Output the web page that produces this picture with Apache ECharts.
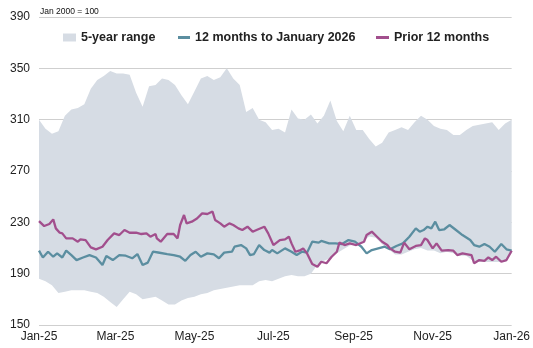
<!DOCTYPE html>
<html>
<head>
<meta charset="utf-8">
<script src="https://cdn.jsdelivr.net/npm/echarts@6/dist/echarts.min.js"></script>
<style>html,body{margin:0;padding:0;background:#fff}#c{width:533px;height:348px}</style>
</head>
<body>
<div id="c"></div>
<script>
// x positions are day-of-year offsets from 1 Jan 2025
const tickDays = [0, 59, 120, 181, 243, 304, 365];
const tickLabels = ['Jan-25', 'Mar-25', 'May-25', 'Jul-25', 'Sep-25', 'Nov-25', 'Jan-26'];

const bandDays = [0,5,10,15,20,25,30,35,40,45,50,55,60,65,70,75,80,85,90,95,100,105,110,115,120,125,130,135,140,145,150,155,160,165,170,175,180,185,190,195,200,205,210,215,220,225,230,235,240,245,250,255,260,265,270,275,280,285,290,295,300,305,310,315,320,325,330,335,340,345,350,355,360,365];
const bandUpper = [310,303,299,301,313,318,319,322,334,341,344,348,346,346,345,331,320,336,337,342,341,337,329,322,332,342,344,341,343,350,342,337,316,319,310,308,302,303,300,318,311,310,314,307,313,325,309,301,313,302,302,295,289,292,300,302,304,302,308,313,310,305,303,302,298,298,302,305,306,307,308,302,307,310];
const bandLower = [186,184,181,175,176,177,177,177,176,175,172,168,164,170,176,174,170,171,172,169,166,166,169,171,172,174,175,177,178,179,180,181,181,181,184,185,184,186,188,189,188,188,190,197,200,202,206,209,212,213,215,219,218,213,209,205,205,207,209,210,208,208,206,207,206,204,204,200,199,199,199,199,199,206];

const recentDays = [0,3,7,11,14,18,21,25,29,34,39,44,49,52,57,62,67,72,76,80,84,88,92,99,104,109,113,117,121,125,130,135,139,143,149,151,156,160,163,166,170,174,178,180,184,190,195,199,203,207,211,216,218,224,229,234,239,244,249,253,257,262,267,271,276,281,286,291,294,297,300,303,306,309,313,317,322,327,333,336,340,344,348,352,357,361,365];
const recentValues = [207.9,202.6,207.1,203.2,205.8,202.6,207.9,204.5,200.6,202.6,204.5,202.6,196.8,203.8,200.6,204.5,204,202,205.3,196.8,198.6,207.1,206.5,205.3,204.5,203.2,200,204.5,207.1,203.2,205.8,205,202,206.4,207.1,211,212.3,209.7,204.5,205.3,212.3,208.4,206.4,208.4,205.8,209.7,207.1,204.5,207.1,206.4,214.9,214.2,215.5,213.6,213.6,213.1,216.2,214.9,211,205.8,208.4,209.7,211,209,211.6,213.6,218.8,225.3,222.7,224,226.6,225.3,230.5,224,224.6,227.9,224,220.1,216.2,212.3,211,213.1,211,207.1,213.1,209,208];

const priorDays = [0,4,8,11,13,16,18,21,26,30,32,36,40,44,49,53,58,62,66,70,75,79,83,86,90,91,94,99,104,107,109,112,114,118,122,126,130,134,136,140,143,147,150,154,157,161,165,168,174,177,181,186,190,193,195,198,202,204,207,211,215,218,222,226,230,232,236,240,245,251,253,257,261,265,269,271,275,279,282,286,291,295,298,300,304,307,311,316,320,323,327,334,336,340,344,347,350,353,357,361,365];
const priorValues = [231,227.1,228.7,232.3,225.3,221.9,221.4,217.5,217.5,214.9,216.7,216.2,210.5,208.9,211,216.2,221.4,220.1,224,221.9,221.9,220.9,221.4,218.8,220.9,217.5,214.9,220.9,220.9,217.5,227.9,235.7,229.2,230.5,233,237,236.5,238.4,231.8,229.2,226.6,229.2,227.9,225.3,224,226.6,222.7,224,226.6,221.4,212.3,216.2,216.7,218.8,213.6,207.1,208.4,209.7,205.8,197.5,195.4,199.3,198.1,203.2,207.1,214.2,212.3,213.6,212.3,214.9,220.1,222.7,218.8,214.9,212.3,209.7,207.1,206.4,214.2,209,211.6,212.3,217.5,216.2,209.7,213.6,207.9,208.4,207.9,204.5,205.8,204.5,198.1,200.6,200,202.6,200.6,203.2,199.3,200.6,207.9];

const zip = (xs, ys) => xs.map((x, i) => [x, ys[i]]);
const font = 'Arial, "Liberation Sans", sans-serif';
const bandColor = '#d6dce4';

const bandData = bandDays.map((d, i) => [d, bandLower[i], bandUpper[i]]);

const legendText = {fontSize: 12.5, fontWeight: 'bold', fontFamily: font, color: '#222'};

const chart = echarts.init(document.getElementById('c'), null, {renderer: 'canvas'});
chart.setOption({
  animation: false,
  backgroundColor: '#fff',
  grid: {left: 39, right: 21, top: 17, bottom: 23, containLabel: false},
  graphic: [{
    type: 'text', left: 40, top: 7,
    style: {text: 'Jan 2000 = 100', fontSize: 8.5, fontFamily: font, fill: '#111'}
  }],
  legend: [
    {data: ['5-year range'], left: 63, top: 31, padding: 0, icon: 'rect', itemWidth: 13, itemHeight: 8, textStyle: legendText},
    {data: ['12 months to January 2026'], left: 178, top: 31, padding: 0, icon: 'rect', itemWidth: 12, itemHeight: 3, textStyle: legendText},
    {data: ['Prior 12 months'], left: 376, top: 31, padding: 0, icon: 'rect', itemWidth: 13, itemHeight: 3, textStyle: legendText}
  ],
  xAxis: {
    type: 'value', min: 0, max: 365,
    axisLine: {show: false}, axisTick: {show: false}, splitLine: {show: false},
    axisLabel: {
      customValues: tickDays, margin: 6, fontSize: 12, fontFamily: font, color: '#222',
      formatter: v => tickLabels[tickDays.indexOf(v)] || ''
    }
  },
  yAxis: {
    type: 'value', min: 150, max: 390, interval: 40,
    axisLine: {show: false}, axisTick: {show: false},
    splitLine: {lineStyle: {color: '#cfcfcf', width: 1}},
    axisLabel: {margin: 9, fontSize: 12, fontFamily: font, color: '#222'}
  },
  series: [
    {name: '5-year range', type: 'custom', data: bandData,
     encode: {x: 0, y: [1, 2]}, itemStyle: {color: bandColor}, silent: true, clip: true,
     renderItem: function (params, api) {
       if (params.dataIndex !== 0) return null;
       const pts = [];
       for (let i = 0; i < bandData.length; i++) pts.push(api.coord([bandData[i][0], bandData[i][2]]));
       for (let i = bandData.length - 1; i >= 0; i--) pts.push(api.coord([bandData[i][0], bandData[i][1]]));
       return {type: 'polygon', shape: {points: pts}, style: {fill: bandColor}};
     }},
    {name: '12 months to January 2026', type: 'line', data: zip(recentDays, recentValues),
     showSymbol: false, itemStyle: {color: '#5b8ea0'}, lineStyle: {color: '#5b8ea0', width: 2.3}},
    {name: 'Prior 12 months', type: 'line', data: zip(priorDays, priorValues),
     showSymbol: false, itemStyle: {color: '#a24f8d'}, lineStyle: {color: '#a24f8d', width: 2.3}}
  ]
});
</script>
</body>
</html>
